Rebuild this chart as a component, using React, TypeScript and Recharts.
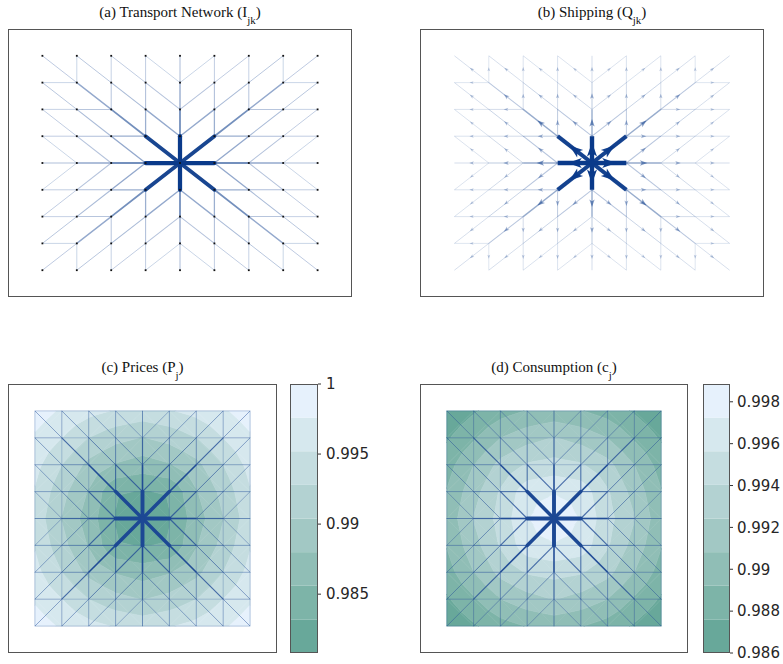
import React from "react";
import { ComposedChart, XAxis, YAxis, Scatter, ReferenceLine, ReferenceArea } from "recharts";

// 9 x 9 grid of locations, the centre one is the only producer
const COLS = [0, 1, 2, 3, 4, 5, 6, 7, 8];
const MID = 4;

// upper-left octant of the optimal network (the figure is 8-fold symmetric)
// [kind, col, row, infrastructure I_jk, shipping Q_jk]
// "v": (col,row)-(col,row+1)   "d": (col,row)-(col+1,row+1)
const octant: [string, number, number, number, number][] = [
  ["v", 4, 0, 0.18, 0.09],
  ["v", 4, 1, 0.3, 0.16],
  ["v", 4, 2, 0.45, 0.32],
  ["v", 4, 3, 1.0, 1.0],
  ["v", 3, 0, 0.12, 0.07],
  ["v", 3, 1, 0.18, 0.1],
  ["v", 3, 2, 0.27, 0.16],
  ["v", 2, 0, 0.1, 0.06],
  ["v", 2, 1, 0.15, 0.09],
  ["v", 1, 0, 0.09, 0.05],
  ["d", 0, 0, 0.13, 0.08],
  ["d", 1, 1, 0.3, 0.18],
  ["d", 2, 2, 0.45, 0.32],
  ["d", 3, 3, 0.92, 0.95],
  ["d", 1, 0, 0.14, 0.08],
  ["d", 2, 1, 0.2, 0.12],
  ["d", 3, 2, 0.3, 0.18],
  ["d", 2, 0, 0.12, 0.07],
  ["d", 3, 1, 0.16, 0.1],
  ["d", 3, 0, 0.09, 0.06],
];

// prices P_j at the nodes (row by row)
const prices = [
  [0.999, 0.9972, 0.996, 0.995, 0.9943, 0.995, 0.996, 0.9972, 0.999],
  [0.9972, 0.9952, 0.9928, 0.9912, 0.9903, 0.9912, 0.9928, 0.9952, 0.9972],
  [0.996, 0.9928, 0.9897, 0.9878, 0.9868, 0.9878, 0.9897, 0.9928, 0.996],
  [0.995, 0.9912, 0.9878, 0.9834, 0.9831, 0.9834, 0.9878, 0.9912, 0.995],
  [0.9943, 0.9903, 0.9868, 0.9831, 0.9808, 0.9831, 0.9868, 0.9903, 0.9943],
  [0.995, 0.9912, 0.9878, 0.9834, 0.9831, 0.9834, 0.9878, 0.9912, 0.995],
  [0.996, 0.9928, 0.9897, 0.9878, 0.9868, 0.9878, 0.9897, 0.9928, 0.996],
  [0.9972, 0.9952, 0.9928, 0.9912, 0.9903, 0.9912, 0.9928, 0.9952, 0.9972],
  [0.999, 0.9972, 0.996, 0.995, 0.9943, 0.995, 0.996, 0.9972, 0.999],
];

// consumption c_j at the nodes
const consumption = [
  [0.9862, 0.9874, 0.9885, 0.9893, 0.9897, 0.9893, 0.9885, 0.9874, 0.9862],
  [0.9874, 0.989, 0.9908, 0.9918, 0.9925, 0.9918, 0.9908, 0.989, 0.9874],
  [0.9885, 0.9908, 0.9929, 0.9942, 0.9946, 0.9942, 0.9929, 0.9908, 0.9885],
  [0.9893, 0.9918, 0.9942, 0.9966, 0.9971, 0.9966, 0.9942, 0.9918, 0.9893],
  [0.9897, 0.9925, 0.9946, 0.9971, 0.9988, 0.9971, 0.9946, 0.9925, 0.9897],
  [0.9893, 0.9918, 0.9942, 0.9966, 0.9971, 0.9966, 0.9942, 0.9918, 0.9893],
  [0.9885, 0.9908, 0.9929, 0.9942, 0.9946, 0.9942, 0.9929, 0.9908, 0.9885],
  [0.9874, 0.989, 0.9908, 0.9918, 0.9925, 0.9918, 0.9908, 0.989, 0.9874],
  [0.9862, 0.9874, 0.9885, 0.9893, 0.9897, 0.9893, 0.9885, 0.9874, 0.9862],
];

const priceRange = [0.9808, 1.0];
const consRange = [0.986, 0.99885];
const priceTicks = [0.985, 0.99, 0.995, 1];
const consTicks = [0.986, 0.988, 0.99, 0.992, 0.994, 0.996, 0.998];
const bandColors = ["#68a89a", "#7db4a8", "#90beb6", "#a2c8c4", "#b3d2d2", "#c5dde0", "#d6e8ee", "#e6f1fc"];

const NAVY = "#0a3a8a";
const DOM: [number, number] = [-1, 9];
const SERIF = "'Liberation Serif', 'Times New Roman', serif";

const hex = (s: string) => [1, 3, 5].map((i) => parseInt(s.slice(i, i + 2), 16));
const mix = (a: string, b: string, t: number) => {
  const A = hex(a), B = hex(b);
  return "rgb(" + A.map((v, i) => Math.round(v + (B[i] - v) * t)).join(",") + ")";
};

// ---------- network ----------
const sym = (c: number, r: number, k: number) => {
  let a = k & 1 ? r : c;
  let b = k & 1 ? c : r;
  if (k & 2) a = 8 - a;
  if (k & 4) b = 8 - b;
  return [a, b];
};
const d2 = (p: number[]) => (p[0] - MID) ** 2 + (p[1] - MID) ** 2;
const keyOf = (p: number[], q: number[]) => [p.join(","), q.join(",")].sort().join("|");

const tree = new Map<string, any>();
for (const [kind, c, r, I, Q] of octant) {
  const c2 = kind === "v" ? c : c + 1;
  for (let k = 0; k < 8; k++) {
    let p = sym(c, r, k);
    let q = sym(c2, r + 1, k);
    if (d2(q) < d2(p)) [p, q] = [q, p];
    const key = keyOf(p, q);
    if (!tree.has(key)) tree.set(key, { x1: p[0], y1: p[1], x2: q[0], y2: q[1], I, Q });
  }
}
const treeEdges = [...tree.values()].sort((a, b) => a.I - b.I);

// full "union jack" graph: every row, every column, one diagonal per cell pointing at the centre
const allEdges: any[] = [];
const addEdge = (p: number[], q: number[]) => {
  const t = tree.get(keyOf(p, q));
  allEdges.push({ x1: p[0], y1: p[1], x2: q[0], y2: q[1], I: t ? t.I : 0 });
};
for (const c of COLS)
  for (const r of COLS) {
    if (c < 8) addEdge([c, r], [c + 1, r]);
    if (r < 8) addEdge([c, r], [c, r + 1]);
    if (c < 8 && r < 8) {
      const back = (c < MID) === (r < MID);
      if (back) addEdge([c, r], [c + 1, r + 1]);
      else addEdge([c + 1, r], [c, r + 1]);
    }
  }
allEdges.sort((a, b) => a.I - b.I);

const nodes = COLS.flatMap((c) => COLS.map((r) => ({ x: c, y: r })));

const arrows = treeEdges.map((e) => ({
  x: (e.x1 + e.x2) / 2,
  y: (e.y1 + e.y2) / 2,
  dx: e.x2 - e.x1,
  dy: e.y2 - e.y1,
  Q: e.Q,
}));

// ---------- filled contours ----------
type P = { x: number; y: number; v: number };
const clip = (poly: P[], level: number, sign: number) => {
  if (!isFinite(level)) return poly;
  const out: P[] = [];
  for (let i = 0; i < poly.length; i++) {
    const a = poly[i], b = poly[(i + 1) % poly.length];
    const ia = sign * (a.v - level) >= 0, ib = sign * (b.v - level) >= 0;
    if (ia) out.push(a);
    if (ia !== ib) {
      const t = (level - a.v) / (b.v - a.v);
      out.push({ x: a.x + t * (b.x - a.x), y: a.y + t * (b.y - a.y), v: level });
    }
  }
  return out;
};
const contour = (vals: number[][], range: number[]) => {
  const n = bandColors.length;
  const step = (range[1] - range[0]) / n;
  const res: any[] = [];
  for (let r = 0; r < 8; r++)
    for (let c = 0; c < 8; c++) {
      const a = { x: c, y: r, v: vals[r][c] };
      const b = { x: c + 1, y: r, v: vals[r][c + 1] };
      const d = { x: c + 1, y: r + 1, v: vals[r + 1][c + 1] };
      const e = { x: c, y: r + 1, v: vals[r + 1][c] };
      const m = { x: c + 0.5, y: r + 0.5, v: (a.v + b.v + d.v + e.v) / 4 };
      for (const tri of [[a, b, m], [b, d, m], [d, e, m], [e, a, m]])
        for (let k = 0; k < n; k++) {
          const lo = k === 0 ? -Infinity : range[0] + k * step;
          const hi = k === n - 1 ? Infinity : range[0] + (k + 1) * step;
          const poly = clip(clip(tri, lo, 1), hi, -1);
          if (poly.length >= 3)
            res.push({ x: c, y: r, pts: poly.map((p) => [p.x - c, p.y - r]), fill: bandColors[k] });
        }
    }
  return res;
};
const priceFill = contour(prices, priceRange);
const consFill = contour(consumption, consRange);

// ---------- drawing ----------
function Plane({ w, h, children }: any) {
  return (
    <div style={{ position: "absolute", left: 0, top: 0 }}>
      <ComposedChart width={w} height={h} margin={{ top: 0, right: 0, bottom: 0, left: 0 }}>
        <XAxis type="number" dataKey="x" domain={DOM} hide allowDataOverflow />
        <YAxis type="number" dataKey="y" domain={DOM} reversed hide allowDataOverflow />
        {children}
      </ComposedChart>
    </div>
  );
}

function Title({ left, top, w, text, sub }: any) {
  return (
    <div
      style={{
        position: "absolute", left, top, width: w, textAlign: "center",
        fontFamily: SERIF, fontSize: 15, lineHeight: "17px", color: "#111", whiteSpace: "nowrap",
      }}
    >
      {text}
      <span style={{ fontSize: 11, position: "relative", top: 7 }}>{sub}</span>)
    </div>
  );
}

const Frame = ({ w, h }: any) => (
  <div style={{ position: "absolute", left: 0, top: 0, width: w, height: h, border: "1px solid #555", boxSizing: "border-box" }} />
);

function Panel({ left, top, w, h, children }: any) {
  return <div style={{ position: "absolute", left, top, width: w, height: h }}>{children}</div>;
}

function NetworkPanel({ left, top, w, h }: any) {
  return (
    <Panel left={left} top={top} w={w} h={h}>
      <Plane w={w} h={h}>
        {treeEdges.map((e, i) => (
          <ReferenceLine
            key={i}
            segment={[{ x: e.x1, y: e.y1 }, { x: e.x2, y: e.y2 }]}
            stroke={mix("#e2e8f2", NAVY, e.I ** 0.85)}
            strokeWidth={0.85 + 3.4 * e.I ** 1.6}
            strokeLinecap="round"
            ifOverflow="visible"
          />
        ))}
      </Plane>
      <Plane w={w} h={h}>
        <Scatter
          data={nodes}
          isAnimationActive={false}
          shape={(p: any) => <rect x={p.cx - 0.9} y={p.cy - 0.9} width={1.8} height={1.8} fill="#111" />}
        />
      </Plane>
      <Frame w={w} h={h} />
    </Panel>
  );
}

function ShippingPanel({ left, top, w, h }: any) {
  const sx = w / 10, sy = h / 10;
  const arrow = (p: any) => {
    const d = p.payload;
    const ang = Math.atan2(d.dy * sy, d.dx * sx);
    const L = 3 + 11 * d.Q ** 0.8;
    const W = L * 0.72;
    const co = Math.cos(ang), si = Math.sin(ang);
    const pts = [[L / 2, 0], [-L / 2, W / 2], [-L / 4, 0], [-L / 2, -W / 2]]
      .map(([u, v]) => `${(p.cx + u * co - v * si).toFixed(2)},${(p.cy + u * si + v * co).toFixed(2)}`)
      .join(" ");
    return <polygon points={pts} fill={NAVY} fillOpacity={0.2 + 0.8 * d.Q ** 0.8} />;
  };
  return (
    <Panel left={left} top={top} w={w} h={h}>
      <Plane w={w} h={h}>
        {treeEdges.map((e, i) => (
          <ReferenceLine
            key={i}
            segment={[{ x: e.x1, y: e.y1 }, { x: e.x2, y: e.y2 }]}
            stroke={NAVY}
            strokeOpacity={0.1 + 0.9 * e.Q ** 0.9}
            strokeWidth={0.8 + 3.6 * e.Q ** 1.6}
            ifOverflow="visible"
          />
        ))}
      </Plane>
      <Plane w={w} h={h}>
        <Scatter data={arrows} isAnimationActive={false} shape={arrow} />
      </Plane>
      <Frame w={w} h={h} />
    </Panel>
  );
}

function MapPanel({ left, top, w, h, fill }: any) {
  const sx = w / 10, sy = h / 10;
  const poly = (p: any) => {
    const d = p.payload;
    const path =
      d.pts.map((q: number[], i: number) => `${i ? "L" : "M"}${(p.cx + q[0] * sx).toFixed(2)},${(p.cy + q[1] * sy).toFixed(2)}`).join("") + "Z";
    return <path d={path} fill={d.fill} stroke={d.fill} strokeWidth={0.6} />;
  };
  return (
    <Panel left={left} top={top} w={w} h={h}>
      <Plane w={w} h={h}>
        <Scatter data={fill} isAnimationActive={false} shape={poly} />
      </Plane>
      <Plane w={w} h={h}>
        {allEdges.map((e, i) => (
          <ReferenceLine
            key={i}
            segment={[{ x: e.x1, y: e.y1 }, { x: e.x2, y: e.y2 }]}
            stroke="#1c4894"
            strokeOpacity={Math.min(1, 0.38 + 1.3 * e.I)}
            strokeWidth={0.7 + 3.2 * e.I ** 1.6}
            strokeLinecap={e.I > 0.5 ? "round" : "butt"}
            ifOverflow="visible"
          />
        ))}
      </Plane>
      <Frame w={w} h={h} />
    </Panel>
  );
}

function ColorBar({ left, top, w, h, range, ticks, gap }: any) {
  const n = bandColors.length;
  const step = (range[1] - range[0]) / n;
  const bands = bandColors.map((c, i) => ({ x: 0, y: range[0] + i * step, top: range[0] + (i + 1) * step, fill: c }));
  return (
    <div style={{ position: "absolute", left, top: top - 10 }}>
      <ComposedChart
        width={w + 60}
        height={h + 20}
        margin={{ top: 10, right: 0, bottom: 10, left: 0 }}
        data={[{ x: 0, y: range[0] }, { x: 1, y: range[1] }]}
      >
        <XAxis type="number" dataKey="x" domain={[0, 1]} hide allowDataOverflow />
        <YAxis
          type="number"
          dataKey="y"
          orientation="right"
          domain={range}
          ticks={ticks}
          interval={0}
          width={60}
          allowDataOverflow
          axisLine={false}
          tickSize={3}
          tickMargin={gap}
          tickLine={{ stroke: "#333" }}
          tick={{ fontSize: 15, fill: "#262626", fontFamily: "'DejaVu Sans', sans-serif" }}
        />
        {bands.map((b, i) => (
          <ReferenceArea
            key={i}
            x1={0}
            x2={1}
            y1={b.y}
            y2={b.top}
            fill={b.fill}
            fillOpacity={1}
            stroke="none"
            ifOverflow="visible"
          />
        ))}
      </ComposedChart>
      <div style={{ position: "absolute", left: 0, top: 10, width: w, height: h, border: "1px solid #555", boxSizing: "border-box" }} />
    </div>
  );
}

export default function App() {
  return (
    <div style={{ position: "absolute", left: 0, top: 0, width: 783, height: 664, background: "#fff" }}>
      <Title left={8} top={4} w={344} text="(a) Transport Network (I" sub="jk" />
      <Title left={420} top={4} w={344} text="(b) Shipping (Q" sub="jk" />
      <Title left={8} top={359} w={269} text="(c) Prices (P" sub="j" />
      <Title left={420} top={359} w={268} text="(d) Consumption (c" sub="j" />

      <NetworkPanel left={8} top={29} w={344} h={268} />
      <ShippingPanel left={420} top={29} w={344} h={268} />
      <MapPanel left={8} top={384} w={269} h={269} fill={priceFill} />
      <MapPanel left={420} top={384} w={268} h={269} fill={consFill} />

      <ColorBar left={290} top={384} w={28} h={269} range={priceRange} ticks={priceTicks} gap={5} />
      <ColorBar left={703} top={384} w={27} h={269} range={consRange} ticks={consTicks} gap={4} />
    </div>
  );
}
